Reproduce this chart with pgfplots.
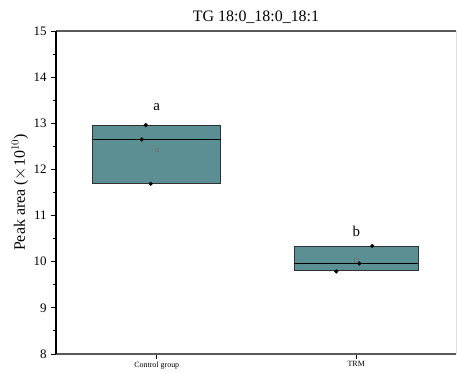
\documentclass[border=0pt]{standalone}
\usepackage{fontspec}
\setmainfont{Liberation Serif}
\usepackage{pgfplots}
\pgfplotsset{compat=1.18}
\definecolor{boxfill}{RGB}{91,143,148}
\definecolor{boxedge}{RGB}{45,50,52}
\definecolor{meanmark}{RGB}{110,120,122}

\begin{document}
\begin{tikzpicture}
\begin{axis}[
  scale only axis,
  width=400bp, height=323bp,
  xmin=-0.505, xmax=1.5,
  ymin=8, ymax=15,
  xtick={0,1},
  xticklabels={Control group, TRM},
  ytick={8,9,...,15},
  minor y tick num=1,
  tick align=outside,
  xtick pos=bottom, ytick pos=left,
  major tick length=5bp, minor tick length=3bp,
  every tick/.style={black, line width=0.9pt},
  axis line style={draw=none},
  /pgf/number format/assume math mode=true,
  yticklabel style={font=\fontsize{13}{13}\selectfont, xshift=-1bp},
  xticklabel style={font=\fontsize{8}{8}\selectfont, yshift=1bp},
  ylabel={Peak area ($\times$10$^{10}$)},
  ylabel style={at={(axis description cs:-0.09,0.5)}, anchor=center,
                font=\fontsize{16}{16}\selectfont},
  title={TG 18:0\_18:0\_18:1},
  title style={at={(axis description cs:0.5,1)}, anchor=south, inner sep=1.5bp,
               font=\fontsize{16}{16}\selectfont},
  clip=false,
]
% frame
\draw[black!65, line width=1.6pt] (rel axis cs:0,0) -- (rel axis cs:1,0);
\draw[black!65, line width=1.6pt] (rel axis cs:0,1) -- (rel axis cs:1,1);
\draw[black!12, line width=0.8pt] (rel axis cs:1,0) -- (rel axis cs:1,1);
\draw[black, line width=1.3pt] (rel axis cs:0,0) -- (rel axis cs:0,1);

% boxes span min to max of each group
\addplot[fill=boxfill, draw=boxedge, line width=1pt]
  coordinates {(-0.32,11.69) (0.32,11.69) (0.32,12.96) (-0.32,12.96)} -- cycle;
\addplot[fill=boxfill, draw=boxedge, line width=1pt]
  coordinates {(0.69,9.80) (1.31,9.80) (1.31,10.34) (0.69,10.34)} -- cycle;
% medians
\addplot[black, line width=1.2pt] coordinates {(-0.32,12.65) (0.32,12.65)};
\addplot[black, line width=1.2pt] coordinates {(0.69,9.96) (1.31,9.96)};

% group means
\addplot[only marks, mark=square, mark size=1.8bp, draw=meanmark, line width=0.5pt]
  coordinates {(0,12.43) (1,10.03)};

% individual samples
\addplot[only marks, mark=*, mark size=1.9bp, black]
  coordinates {(-0.055,12.96) (-0.075,12.65) (-0.03,11.69)
               (1.08,10.34) (1.015,9.96) (0.90,9.79)};

% significance letters
\node[font=\fontsize{15}{15}\selectfont] at (axis cs:0,13.35) {a};
\node[font=\fontsize{15}{15}\selectfont] at (axis cs:1,10.65) {b};
\end{axis}
\pgfresetboundingbox
\path[use as bounding box] ([shift={(-56bp,-19bp)}]current axis.south west)
  rectangle ([shift={(1bp,31bp)}]current axis.north east);
\end{tikzpicture}
\end{document}
